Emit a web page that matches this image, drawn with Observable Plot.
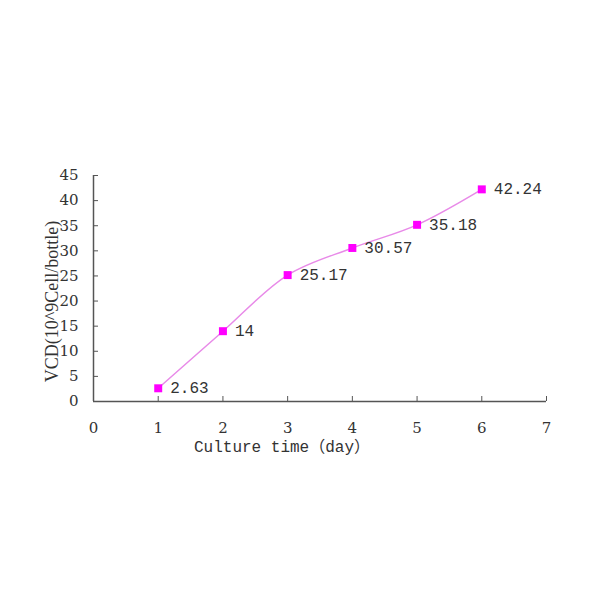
<!DOCTYPE html>
<html>
<head>
<meta charset="utf-8">
<script src="https://cdn.jsdelivr.net/npm/d3@7"></script>
<script src="https://cdn.jsdelivr.net/npm/@observablehq/plot@0.6"></script>
<style>
  html, body { margin: 0; padding: 0; background: #fff; }
  #chart { width: 600px; height: 600px; }
</style>
</head>
<body>
<div id="chart"></div>
<script>
const days = [1, 2, 3, 4, 5, 6];
const vcd = [2.63, 14, 25.17, 30.57, 35.18, 42.24];
const xTicks = [0, 1, 2, 3, 4, 5, 6, 7];
const yTicks = [0, 5, 10, 15, 20, 25, 30, 35, 40, 45];
const xLabel = "Culture time（day）";
const yLabel = "VCD(10^9Cell/bottle)";

const data = days.map((d, i) => ({day: d, vcd: vcd[i]}));
const serif = "'DejaVu Serif', 'Liberation Serif', serif";
const times = "'Liberation Serif', serif";
const mono = "'Liberation Mono', 'Noto Sans CJK SC', monospace";

const chart = Plot.plot({
  width: 600,
  height: 600,
  marginLeft: 93,
  marginRight: 54,
  marginTop: 175,
  marginBottom: 199,
  style: {fontFamily: serif, fontSize: "15px", color: "#333", background: "#fff"},
  x: {domain: [0, 7]},
  y: {domain: [0, 45]},
  marks: [
    Plot.ruleY([0], {stroke: "#555", strokeWidth: 1.5}),
    Plot.ruleX([0], {stroke: "#555", strokeWidth: 1.5}),
    Plot.axisX(xTicks, {tickSize: 0, tickPadding: 21, label: null, fill: "#333", fontSize: 15}),
    Plot.axisX(xTicks.slice(1), {tickSize: -5, text: null, stroke: "#555", label: null}),
    Plot.axisY(yTicks, {tickSize: 0, tickPadding: 15, label: null, fill: "#333", fontSize: 15}),
    Plot.axisY(yTicks, {tickSize: -5, text: null, stroke: "#555", label: null}),
    Plot.line(data, {x: "day", y: "vcd", curve: "catmull-rom", stroke: "#e88ae8", strokeWidth: 1.5}),
    Plot.dot(data, {x: "day", y: "vcd", symbol: "square", r: 4.5, fill: "#ff00ff", stroke: "none"}),
    Plot.text(data, {x: "day", y: "vcd", text: d => String(d.vcd), dx: 12, textAnchor: "start", fill: "#333", fontSize: 16, fontFamily: mono}),
    Plot.text([xLabel], {frameAnchor: "bottom", textAnchor: "middle", dx: -38, dy: 50, fill: "#333", fontSize: 16, fontFamily: mono}),
    Plot.text([yLabel], {frameAnchor: "left", textAnchor: "middle", dx: -41, dy: 13, rotate: -90, fill: "#333", fontSize: 18, fontFamily: times})
  ]
});
document.getElementById("chart").appendChild(chart);
</script>
</body>
</html>
